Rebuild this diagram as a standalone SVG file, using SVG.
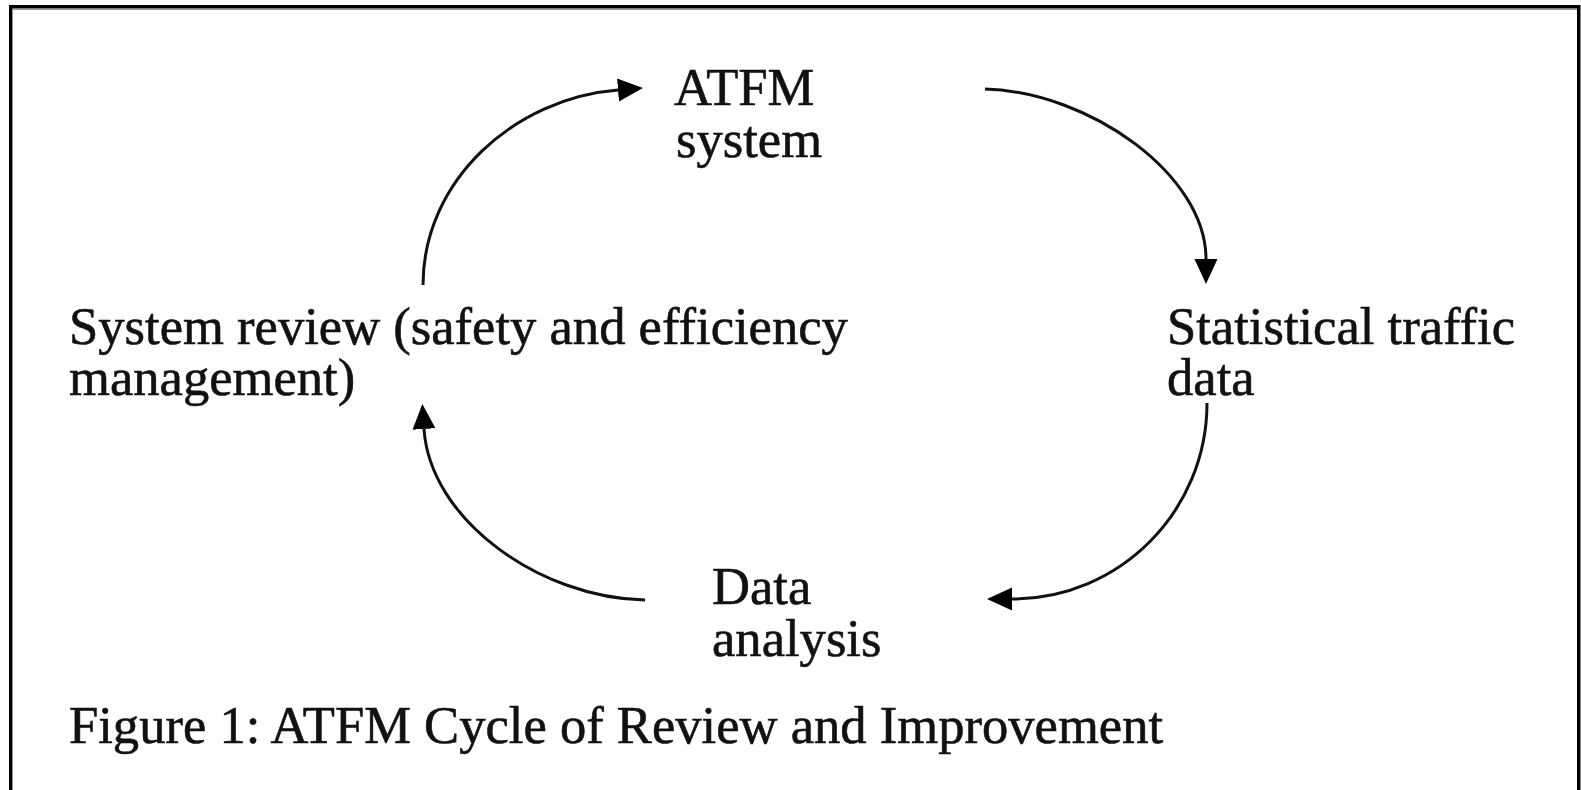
<svg xmlns="http://www.w3.org/2000/svg" width="1581" height="790" viewBox="0 0 1581 790">
<style>
  .t { font-family: "Liberation Serif", "Times New Roman", serif; font-size: 52.6px; fill: #111; stroke: #111; stroke-width: 0.6px; }
  .c { fill: none; stroke: #111; stroke-width: 3; }
</style>
<defs>
  <marker id="ah" markerUnits="userSpaceOnUse" markerWidth="26" markerHeight="24" refX="0" refY="11.5" orient="auto" viewBox="0 0 26 24">
    <path d="M0,0 L25,11.5 L0,23 Z" fill="#000"/>
  </marker>
</defs>
<rect x="0" y="0" width="1581" height="790" fill="#fff"/>
<g id="frame">
  <rect x="10.75" y="6.75" width="1568" height="830" fill="none" stroke="#000" stroke-width="3.5"/>
  <line x1="12.5" y1="9.5" x2="1577" y2="9.5" stroke="#999" stroke-width="1"/>
  <line x1="12.5" y1="9.5" x2="12.5" y2="790" stroke="#999" stroke-width="1"/>
</g>
<g id="connectors">
  <path class="c" d="M423,285 C423,180 515,98 618,90" marker-end="url(#ah)"/>
  <path class="c" d="M985,89 C1090,92 1206,175 1206,259" marker-end="url(#ah)"/>
  <path class="c" d="M1207,403 C1207,511 1120,599 1012,599" marker-end="url(#ah)"/>
  <path class="c" d="M645,600 C540,598 430,520 424,429" marker-end="url(#ah)"/>
</g>
<g id="node-atfm">
  <text class="t" x="674" y="105">ATFM<tspan x="676" y="157">system</tspan></text>
</g>
<g id="node-stats">
  <text class="t" x="1167" y="344">Statistical traffic<tspan x="1167" y="395">data</tspan></text>
</g>
<g id="node-analysis">
  <text class="t" x="712" y="604">Data<tspan x="712" y="656">analysis</tspan></text>
</g>
<g id="node-review">
  <text class="t" x="69" y="344">System review (safety and efficiency<tspan x="69" y="395">management)</tspan></text>
</g>
<g id="caption">
  <text class="t" x="69" y="743">Figure 1: ATFM Cycle of Review and Improvement</text>
</g>
</svg>
